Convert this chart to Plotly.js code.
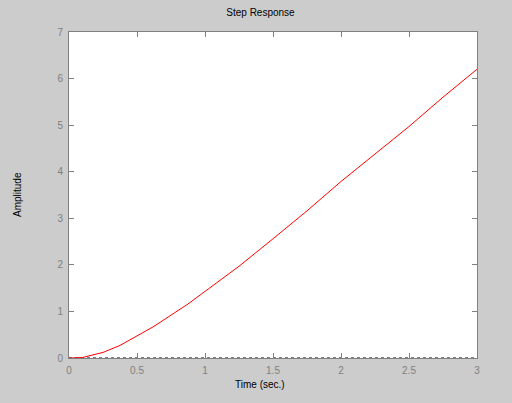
<!DOCTYPE html>
<html>
<head>
<meta charset="utf-8">
<script src="https://cdn.plot.ly/plotly-3.0.1.min.js"></script>
<style>html,body{margin:0;padding:0;background:#cccccc;}#chart{width:512px;height:403px;}</style>
</head>
<body>
<div id="chart"></div>
<script>
// Data
const timeSec = [0, 0.1, 0.125, 0.25, 0.375, 0.5, 0.625, 0.75, 0.875, 1.0, 1.25, 1.5, 1.75, 2.0, 2.25, 2.5, 2.75, 3.0];
const amplitude = [0, 0.01, 0.03, 0.12, 0.27, 0.47, 0.68, 0.92, 1.16, 1.43, 1.97, 2.56, 3.16, 3.79, 4.37, 4.97, 5.60, 6.20];
const baselineX = [0, 3];
const baselineY = [0, 0];
const xTicks = [0, 0.5, 1, 1.5, 2, 2.5, 3];
const xTickText = ['0', '0.5', '1', '1.5', '2', '2.5', '3'];
const yTicks = [0, 1, 2, 3, 4, 5, 6, 7];

const font = {family: '"Liberation Sans", Arial, sans-serif', size: 10};

const traces = [
  {x: baselineX, y: baselineY, mode: 'lines', line: {color: '#000000', width: 1, dash: 'dot'}, hoverinfo: 'skip', showlegend: false},
  {x: timeSec, y: amplitude, mode: 'lines', line: {color: '#ff0000', width: 1}, showlegend: false}
];

const axisCommon = {
  showgrid: false, zeroline: false, showline: true, linecolor: '#808080', linewidth: 1,
  mirror: 'ticks', ticks: 'inside', ticklen: 5, tickcolor: '#808080', tickwidth: 1,
  tickfont: {family: font.family, size: 10, color: '#808080'}, fixedrange: true
};

const layout = {
  width: 512, height: 403,
  paper_bgcolor: '#cccccc', plot_bgcolor: '#ffffff',
  margin: {l: 69, r: 35, t: 32, b: 45, pad: 0},
  font: font,
  title: {text: 'Step Response', font: {family: font.family, size: 10, color: '#000000'}, x: 260.5 / 512, xanchor: 'center', y: 1 - 12 / 403, yanchor: 'middle', xref: 'container', yref: 'container'},
  xaxis: Object.assign({}, axisCommon, {range: [0, 3], tickvals: xTicks, ticktext: xTickText, ticklabelstandoff: 3}),
  yaxis: Object.assign({}, axisCommon, {range: [0, 7], tickvals: yTicks, ticklabelstandoff: 3}),
  annotations: [
    {text: 'Time (sec.)', xref: 'paper', yref: 'paper', x: (260 - 69) / 408, y: -(384 - 358) / 326, xanchor: 'center', yanchor: 'middle', showarrow: false, font: {family: font.family, size: 10, color: '#000000'}},
    {text: 'Amplitude', xref: 'paper', yref: 'paper', x: (17 - 69) / 408, y: 0.5, xanchor: 'center', yanchor: 'middle', textangle: -90, showarrow: false, font: {family: font.family, size: 10, color: '#000000'}}
  ]
};

Plotly.newPlot('chart', traces, layout, {displayModeBar: false, staticPlot: true});
</script>
</body>
</html>
